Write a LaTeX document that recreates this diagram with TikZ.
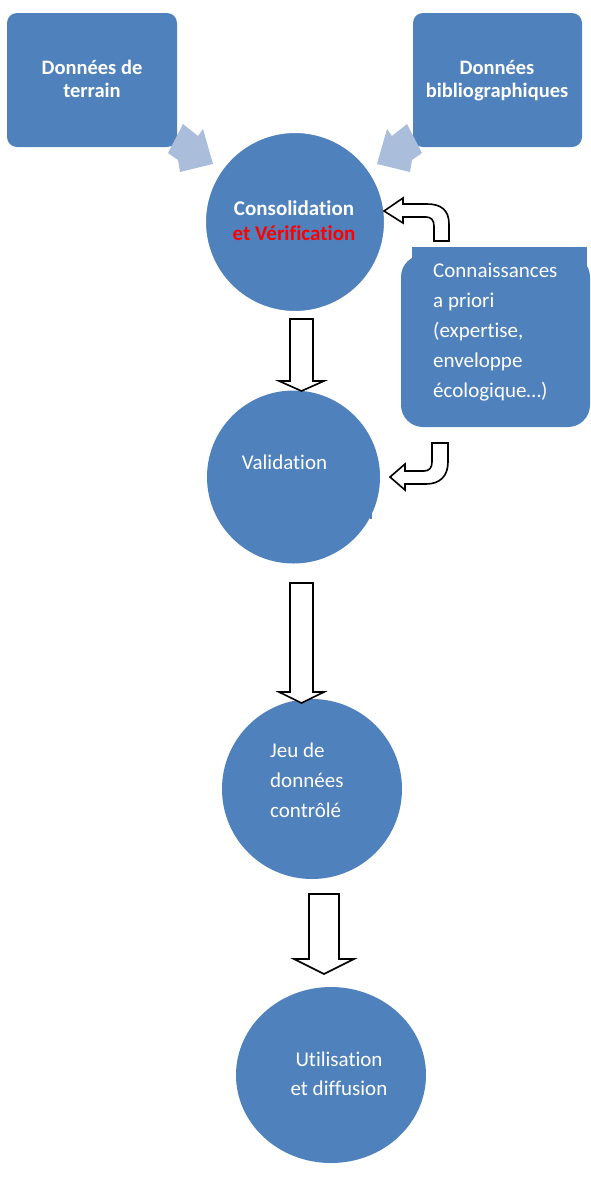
\documentclass[tikz,border=0pt]{standalone}
\usepackage{fontspec}
\setmainfont{Carlito}[Ligatures=NoCommon]
\usetikzlibrary{shapes.geometric}
\definecolor{sblue}{RGB}{79,129,189}
\definecolor{lblue}{RGB}{170,190,220}
\definecolor{vred}{RGB}{255,0,0}
\tikzset{
  circ/.style={circle, fill=sblue, inner sep=0pt},
  ell/.style={ellipse, fill=sblue, inner sep=0pt},
  txt/.style={text=white, inner sep=0pt},
  blockarrow/.style={draw=black, fill=white, line width=1.6pt, line join=miter},
  softarrow/.style={fill=lblue},
  topbox/.style={fill=sblue, rounded corners=10pt}
}
\newcommand{\bodyfont}{\fontsize{21}{30}\selectfont}
\newcommand{\boldfont}{\fontsize{20.5}{23}\selectfont\bfseries}
\begin{document}
\begin{tikzpicture}[x=1pt,y=-1pt]
\useasboundingbox (0,0) rectangle (590,1187);
% top boxes
\fill[topbox] (7,13) rectangle (177,147);
\fill[topbox] (413,13) rectangle (582,147);
\node[txt, anchor=base] (t1) at (92,74) {\boldfont\begin{tabular}[t]{@{}c@{}}Données de\\terrain\end{tabular}};
\node[txt, anchor=base] (t2) at (497,74) {\boldfont\begin{tabular}[t]{@{}c@{}}Données\\bibliographiques\end{tabular}};
% soft arrows
\fill[softarrow] (183,124) -- (198,136) -- (203,129) -- (213,164) -- (180,172) -- (178,160) -- (168,153) -- cycle;
\fill[softarrow] (407,124) -- (392,136) -- (387,129) -- (377,164) -- (410,172) -- (412,160) -- (422,153) -- cycle;
% circles
\node[circ, minimum size=180pt, draw=white, line width=2pt] (c1) at (295,222) {};
\node[circ, minimum size=173pt] (c2) at (293.5,477) {};
\node[circ, minimum size=180pt] (c3) at (312,789) {};
\node[ell, minimum width=190pt, minimum height=176pt] (c4) at (331,1075) {};
\fill[sblue] (370,512) rectangle (372,519);
\fill[sblue] (413,1033) rectangle (415,1041);
% circle texts
\node[txt, anchor=base] (l1) at (294,215) {\bfseries\fontsize{21}{25}\selectfont\begin{tabular}[t]{@{}c@{}}Consolidation\\\textcolor{vred}{et Vérification}\end{tabular}};
\node[txt, anchor=base] (l2) at (284.5,469) {\bodyfont Validation};
\node[txt, anchor=base west] (l3) at (270,757) {\bodyfont\begin{tabular}[t]{@{}l@{}}Jeu de\\données\\contrôlé\end{tabular}};
\node[txt, anchor=base] (l4) at (339,1066) {\bodyfont\fontsize{21}{29}\selectfont\begin{tabular}[t]{@{}c@{}}Utilisation\\et diffusion\end{tabular}};
% Connaissances box
\fill[sblue, rounded corners=22pt] (401,255) rectangle (590,427);
\fill[sblue] (412,247) rectangle (587,270);
\node[txt, anchor=base west] (k) at (433,277) {\bodyfont\begin{tabular}[t]{@{}l@{}}Connaissances\\a priori\\(expertise,\\enveloppe\\écologique…)\end{tabular}};
% down block arrows
\draw[blockarrow] (290,319) -- (313,319) -- (313,381) -- (324,381) -- (301.5,391) -- (279,381) -- (290,381) -- cycle;
\draw[blockarrow] (290,583) -- (313,583) -- (313,692) -- (324,692) -- (301.5,703) -- (279,692) -- (290,692) -- cycle;
\draw[blockarrow] (309,894) -- (339,894) -- (339,959) -- (354,959) -- (324,974) -- (294,959) -- (309,959) -- cycle;
% U-turn arrows
\draw[blockarrow] (449,241) -- (449,224) .. controls (449,210) and (441,204) .. (427,204) -- (403,204) -- (403,198) -- (384,211) -- (403,223) -- (403,217) -- (426,217) .. controls (431,217) and (434,220) .. (434,226) -- (434,241) -- cycle;
\draw[blockarrow] (432,443) -- (448,443) -- (448,462) .. controls (448,476) and (440,484) .. (426,484) -- (405,484) -- (405,490) -- (390,477) -- (405,464) -- (405,471) -- (424,471) .. controls (429,471) and (432,468) .. (432,462) -- cycle;
\end{tikzpicture}
\end{document}
